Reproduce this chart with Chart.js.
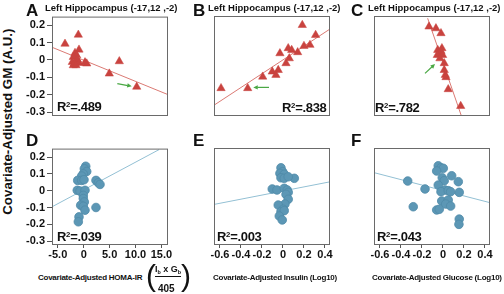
<!DOCTYPE html>
<html>
<head>
<meta charset="utf-8">
<script src="https://cdn.jsdelivr.net/npm/chart.js@4.4.1/dist/chart.umd.min.js"></script>
<style>
  body { margin: 0; background: #fff; }
  #fig { position: relative; width: 504px; height: 294px; overflow: hidden; font-family: 'Liberation Sans', Arial, sans-serif; color: #111; }
  #fig canvas { position: absolute; }
  .t { position: absolute; white-space: nowrap; line-height: 1; font-weight: bold; }
  .t sup { font-size: 0.6em; line-height: 0; vertical-align: 0.55em; }
  .t sub { font-size: 0.6em; line-height: 0; vertical-align: -0.3em; }
  .xt { letter-spacing: -0.25px; }
</style>
</head>
<body>
<div id="fig"></div>
<script>
// tick values / labels
const yTickValues = [0.2, 0.1, 0, -0.1, -0.2, -0.3]
const yTickLabels = ['0.2', '0.1', '0', '-0.1', '-0.2', '-0.3']
const homaTickValues = [-5, 0, 5, 10, 15]
const homaTickLabels = ['-5.0', '0', '5.0', '10.0', '15.0']
const logTickValues = [-0.6, -0.4, -0.2, 0, 0.2, 0.4]
const logTickLabels = ['-0.6', '-0.4', '-0.2', '0', '0.2', '0.4']

const panelLetters = ['A', 'B', 'C', 'D', 'E', 'F']
const r2Labels = ['.489', '.838', '.782', '.039', '.003', '.043']
const regionTitle = 'Left Hippocampus (-17,12 ,-2)'

// A: GM vs HOMA-IR
const homaA = [-3.61, -1.04, -0.91, -1.68, -1.35, -2.01, -1.24, -2.20, -1.81, -0.85, -2.01, -1.49, 0.58, 0.25, 4.94, 6.87, 10.23]
const gmA = [0.093, 0.145, 0.059, 0.040, 0.026, 0.017, 0.002, -0.012, -0.021, -0.018, -0.031, -0.031, -0.021, -0.014, -0.079, -0.008, -0.155]
const fitAx = [-6.18, 16.53]
const fitAy = [0.074, -0.203]
const arrowA = [6.49, -0.136, 9.27, -0.152]

// B: GM vs insulin
const insB = [0.184, 0.311, 0.257, 0.200, 0.050, 0.083, -0.029, 0.140, 0.060, 0.029, -0.045, -0.102, -0.067, -0.193, -0.590, -0.336]
const gmB = [0.198, 0.141, 0.084, 0.078, 0.065, 0.055, 0.036, 0.042, 0.007, -0.021, -0.060, -0.069, -0.088, -0.098, -0.164, -0.164]
const fitBx = [-0.654, 0.457]
const fitBy = [-0.260, 0.179]
const arrowB = [-0.133, -0.159, -0.283, -0.159]

// C: GM vs glucose
const gluC = [-0.133, -0.067, -0.019, -0.050, -0.010, -0.019, -0.035, -0.003, -0.054, -0.029, 0.012, 0.012, 0.022, 0.029, 0.050, 0.169]
const gmC = [0.189, 0.179, 0.151, 0.055, 0.065, 0.049, 0.030, 0.026, 0.026, 0.007, -0.021, -0.060, -0.088, -0.101, -0.170, -0.266]
const fitCx = [-0.146, 0.178]
const fitCy = [0.237, -0.327]
const arrowC = [-0.171, -0.079, -0.076, -0.025]

// D: GM vs HOMA-IR
const homaD = [0.39, 0.12, 0.58, -0.08, -0.39, -1.16, -0.39, 0.06, 2.37, 2.82, 3.15, -1.24, -0.71, 0.25, -0.08, -0.08, 0.12, -0.58, -0.08, 0.25, 2.37, -0.91, -1.04]
const gmD = [0.145, 0.130, 0.114, 0.100, 0.087, 0.061, 0.061, 0.065, 0.061, 0.047, 0.037, 0.002, -0.002, 0.002, -0.028, -0.047, -0.067, -0.087, -0.093, -0.116, -0.100, -0.156, -0.185]
const fitDx = [-6.18, 14.54]
const fitDy = [-0.097, 0.244]

// E: GM vs insulin
const insE = [-0.019, -0.003, -0.029, 0.012, -0.019, 0.012, 0.108, 0.050, -0.102, -0.057, 0.012, 0.041, 0.050, 0.029, 0.050, 0.019, -0.045, 0.003, -0.019, 0.012, -0.035, -0.007]
const gmE = [0.133, 0.110, 0.100, 0.095, 0.074, 0.071, 0.071, 0.080, 0.008, 0.002, 0.012, 0.002, -0.012, -0.024, -0.053, -0.081, -0.087, -0.112, -0.126, -0.120, -0.152, -0.175]
const fitEx = [-0.654, 0.454]
const fitEy = [-0.083, 0.051]

// F: GM vs glucose
const gluF = [-0.045, -0.019, 0.003, -0.060, 0.083, -0.007, 0.012, -0.336, 0.146, -0.045, -0.171, 0.019, -0.019, 0.050, 0.073, 0.155, -0.012, 0.050, 0.026, 0.073, -0.283, -0.060, -0.035, 0.155, 0.152]
const gmF = [0.145, 0.133, 0.130, 0.114, 0.086, 0.074, 0.057, 0.055, 0.051, 0.031, 0.008, 0.002, -0.008, -0.002, -0.008, -0.012, -0.063, -0.057, -0.081, -0.093, -0.097, -0.116, -0.112, -0.170, -0.201]
const fitFx = [-0.654, 0.448]
const fitFy = [0.104, -0.073]

const RED = '#c9433f'
const RED_LINE = '#db7a74'
const BLUE = '#5c97b5'
const BLUE_LINE = '#93c0d4'
const GREEN = '#4aa844'
const FRAME = '#6a6a6a'

const Y_MIN = -0.323
const Y_MAX = 0.25
const PAD_L = 30, PAD_T = 8, PAD_R = 8, PAD_B = 22

const fig = document.getElementById('fig')

const framePlugin = {
  id: 'frame',
  afterDraw(chart) {
    const { ctx, chartArea: a } = chart
    ctx.save()
    ctx.strokeStyle = FRAME
    ctx.lineWidth = 1
    ctx.strokeRect(a.left + 0.5, a.top + 0.5, a.right - a.left - 1, a.bottom - a.top - 1)
    ctx.restore()
  }
}

const arrowPlugin = {
  id: 'arrow',
  afterDatasetsDraw(chart, args, opts) {
    if (!opts.seg) return
    const { x, y } = chart.scales
    const x1 = x.getPixelForValue(opts.seg[0]), y1 = y.getPixelForValue(opts.seg[1])
    const x2 = x.getPixelForValue(opts.seg[2]), y2 = y.getPixelForValue(opts.seg[3])
    const ang = Math.atan2(y2 - y1, x2 - x1)
    const ctx = chart.ctx
    ctx.save()
    ctx.strokeStyle = GREEN
    ctx.fillStyle = GREEN
    ctx.lineWidth = 1.2
    ctx.beginPath()
    ctx.moveTo(x1, y1)
    ctx.lineTo(x2 - 4 * Math.cos(ang), y2 - 4 * Math.sin(ang))
    ctx.stroke()
    ctx.beginPath()
    ctx.moveTo(x2, y2)
    ctx.lineTo(x2 - 5 * Math.cos(ang - 0.45), y2 - 5 * Math.sin(ang - 0.45))
    ctx.lineTo(x2 - 5 * Math.cos(ang + 0.45), y2 - 5 * Math.sin(ang + 0.45))
    ctx.closePath()
    ctx.fill()
    ctx.restore()
  }
}

const tickFont = { family: "'Liberation Sans', Arial, sans-serif", size: 11, weight: 'bold' }

function makePanel(p) {
  const [bx, by, bw, bh] = p.box
  const cv = document.createElement('canvas')
  cv.width = bw + PAD_L + PAD_R
  cv.height = bh + PAD_T + PAD_B
  cv.style.left = (bx - PAD_L) + 'px'
  cv.style.top = (by - PAD_T) + 'px'
  fig.appendChild(cv)

  const tri = p.marker === 'triangle'
  new Chart(cv, {
    type: 'scatter',
    data: {
      datasets: [
        {
          data: p.xs.map((v, i) => ({ x: v, y: p.ys[i] })),
          pointStyle: p.marker,
          pointRadius: tri ? 4.8 : 4.3,
          backgroundColor: tri ? RED : BLUE,
          borderColor: tri ? RED : '#4f8aa8',
          borderWidth: tri ? 0.5 : 0.8
        },
        {
          type: 'line',
          data: p.fitX.map((v, i) => ({ x: v, y: p.fitY[i] })),
          borderColor: tri ? RED_LINE : BLUE_LINE,
          borderWidth: 1,
          pointRadius: 0,
          fill: false
        }
      ]
    },
    options: {
      responsive: false,
      animation: false,
      events: [],
      layout: { padding: { left: 0, top: PAD_T, right: PAD_R, bottom: 0 } },
      plugins: {
        legend: { display: false },
        tooltip: { enabled: false },
        arrow: { seg: p.arrow || null }
      },
      scales: {
        x: {
          type: 'linear',
          position: 'bottom',
          min: p.xMin,
          max: p.xMax,
          afterFit: s => { s.height = PAD_B },
          afterBuildTicks: s => { s.ticks = p.xTicks.map(v => ({ value: v })) },
          ticks: {
            display: p.showX,
            autoSkip: false,
            maxRotation: 0,
            padding: 0,
            color: '#111',
            font: tickFont,
            callback: (v, i) => p.xLabels[i]
          },
          grid: { display: p.showX, drawOnChartArea: false, tickLength: 3, color: '#555' },
          border: { display: false }
        },
        y: {
          type: 'linear',
          position: 'left',
          min: Y_MIN,
          max: Y_MAX,
          afterFit: s => { s.width = PAD_L },
          afterBuildTicks: s => { s.ticks = yTickValues.map(v => ({ value: v })) },
          ticks: {
            display: p.showY,
            autoSkip: false,
            padding: 2,
            color: '#111',
            font: tickFont,
            callback: (v, i) => yTickLabels[i]
          },
          grid: { display: p.showY, drawOnChartArea: false, tickLength: 5, color: '#555' },
          border: { display: false }
        }
      }
    },
    plugins: [framePlugin, arrowPlugin]
  })
}

const panels = [
  { box: [52, 16, 116, 100], xs: homaA, ys: gmA, fitX: fitAx, fitY: fitAy, arrow: arrowA, marker: 'triangle',
    xMin: -6.12, xMax: 16.27, xTicks: homaTickValues, xLabels: homaTickLabels, showX: false, showY: true },
  { box: [214, 16, 116, 100], xs: insB, ys: gmB, fitX: fitBx, fitY: fitBy, arrow: arrowB, marker: 'triangle',
    xMin: -0.657, xMax: 0.448, xTicks: logTickValues, xLabels: logTickLabels, showX: false, showY: false },
  { box: [374, 16, 116, 100], xs: gluC, ys: gmC, fitX: fitCx, fitY: fitCy, arrow: arrowC, marker: 'triangle',
    xMin: -0.657, xMax: 0.448, xTicks: logTickValues, xLabels: logTickLabels, showX: false, showY: false },
  { box: [52, 148, 116, 97], xs: homaD, ys: gmD, fitX: fitDx, fitY: fitDy, marker: 'circle',
    xMin: -6.12, xMax: 16.27, xTicks: homaTickValues, xLabels: homaTickLabels, showX: true, showY: true },
  { box: [214, 148, 116, 97], xs: insE, ys: gmE, fitX: fitEx, fitY: fitEy, marker: 'circle',
    xMin: -0.657, xMax: 0.448, xTicks: logTickValues, xLabels: logTickLabels, showX: true, showY: false },
  { box: [374, 148, 116, 97], xs: gluF, ys: gmF, fitX: fitFx, fitY: fitFy, marker: 'circle',
    xMin: -0.657, xMax: 0.448, xTicks: logTickValues, xLabels: logTickLabels, showX: true, showY: false }
]
panels.forEach(makePanel)

// text placed by baseline
function put(html, x, base, size, cls, style) {
  const d = document.createElement('div')
  d.className = 't' + (cls ? ' ' + cls : '')
  d.innerHTML = html
  d.style.left = x + 'px'
  d.style.top = (base - 0.8465 * size).toFixed(1) + 'px'
  d.style.fontSize = size + 'px'
  if (style) Object.assign(d.style, style)
  fig.appendChild(d)
  return d
}

const letterPos = [[26, 16.5], [193, 16.5], [351, 16.5], [26, 146.5], [193, 146.5], [351, 146.5]]
panelLetters.forEach((l, i) => put(l, letterPos[i][0], letterPos[i][1], 17))

;[45, 208, 368].forEach(x => put(regionTitle, x, 10.5, 9.5))

const r2Pos = [[57, 111], [282, 111.5], [375, 112], [57, 240.5], [217, 241], [377, 241]]
r2Labels.forEach((r, i) => put('R<sup>2</sup>=' + r, r2Pos[i][0], r2Pos[i][1], 13, null, { letterSpacing: '-0.3px' }))

// y-axis title
put('Covariate-Adjusted GM (A.U.)', -102, 121.5 + 0.35 * 13.3, 13.3, null, {
  width: '220px', textAlign: 'center', transform: 'rotate(-90deg)', transformOrigin: '110px 50%'
})

// x-axis titles
put('Covariate-Adjusted HOMA-IR', 38, 281, 8, 'xt')
put('(', 146, 286, 30, null, { fontWeight: 'normal' })
put('I<sub>b</sub> x G<sub>b</sub>', 155, 272.5, 9)
const bar = document.createElement('div')
Object.assign(bar.style, { position: 'absolute', left: '155px', top: '276px', width: '26px', height: '1px', background: '#111' })
fig.appendChild(bar)
put('405', 158, 292, 10)
put(')', 181, 286, 30, null, { fontWeight: 'normal' })
put('Covariate-Adjusted Insulin (Log10)', 213, 281, 8, 'xt')
put('Covariate-Adjusted Glucose (Log10)', 372, 281, 8, 'xt')
</script>
</body>
</html>
